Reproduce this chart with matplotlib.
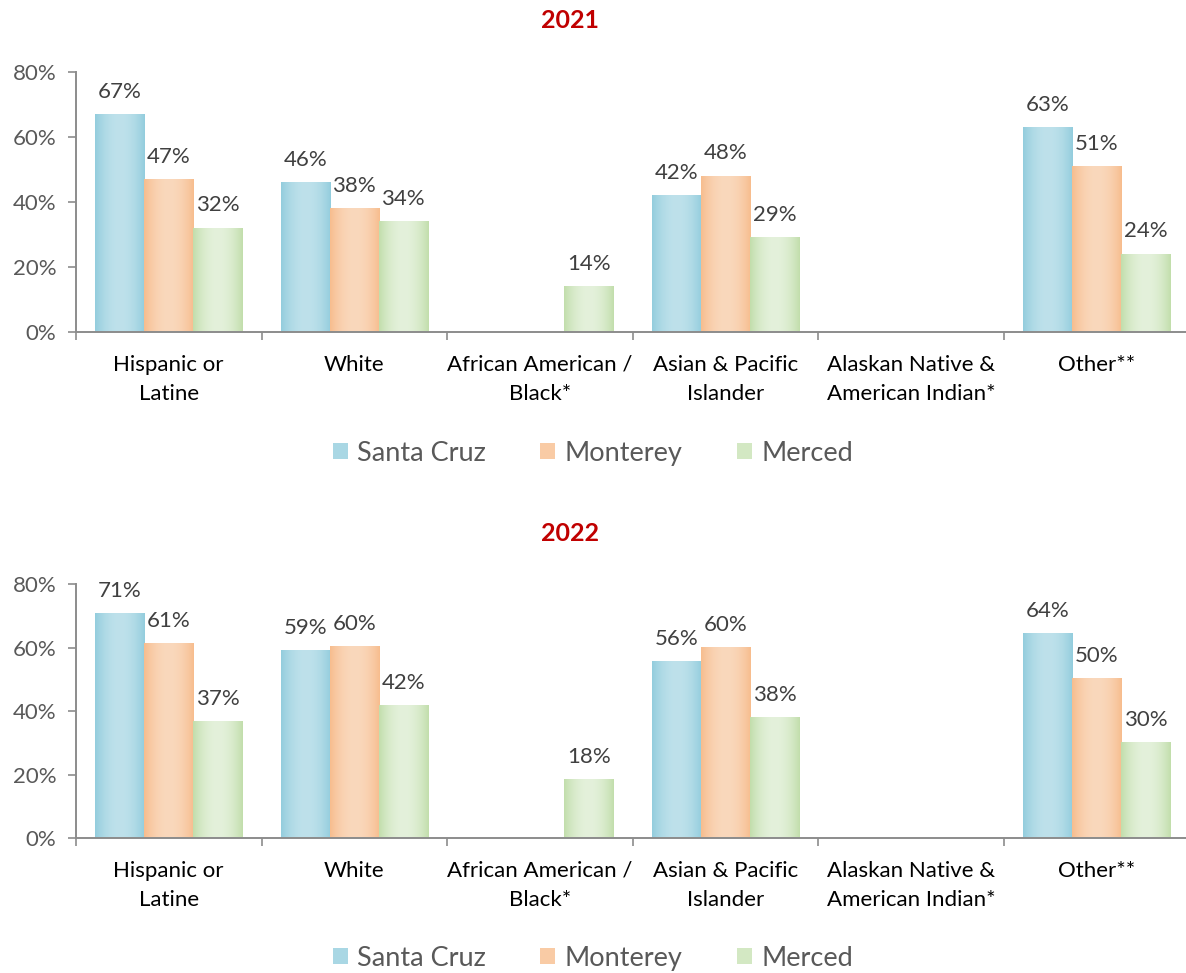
import numpy as np
import matplotlib
matplotlib.use("Agg")
import matplotlib.pyplot as plt
from matplotlib.colors import to_rgb
from matplotlib.patches import Patch

plt.rcParams["font.family"] = ["Lato", "DejaVu Sans"]

# ------------------------------------------------------------
# data
# ------------------------------------------------------------
categories = [
    "Hispanic or\nLatine",
    "White",
    "African American /\nBlack*",
    "Asian & Pacific\nIslander",
    "Alaskan Native &\nAmerican Indian*",
    "Other**",
]
series = ["Santa Cruz", "Monterey", "Merced"]

santa_cruz_2021 = [67, 46, np.nan, 42, np.nan, 63]
monterey_2021 = [47, 38, np.nan, 48, np.nan, 51]
merced_2021 = [32, 34, 14, 29, np.nan, 24]

santa_cruz_2022 = [70.6, 59.2, np.nan, 55.5, np.nan, 64.4]
monterey_2022 = [61.2, 60.2, np.nan, 59.9, np.nan, 50.1]
merced_2022 = [36.6, 41.6, 18.3, 38.0, np.nan, 30.2]

yticks = [0, 20, 40, 60, 80]

# (edge colour, centre colour) for the bar gradient
gradients = [
    ("#93CDDD", "#BEE1EB"),
    ("#F7BD8E", "#FAD8BC"),
    ("#C2DEAC", "#E4F1DB"),
]

TEXT = "#404040"
AXIS = "#8C8C8C"
TITLE = "#C00000"


def gradient_bar(ax, patch, edge, centre):
    x, y = patch.get_xy()
    w, h = patch.get_width(), patch.get_height()
    t = np.linspace(0, 1, 80)
    f = 1 - (2 * t - 1) ** 2
    e = np.array(to_rgb(edge))
    c = np.array(to_rgb(centre))
    cols = e[None, :] + (c - e)[None, :] * f[:, None]
    ax.imshow(cols[None, :, :], extent=[x, x + w, y, y + h], aspect="auto",
              interpolation="bilinear", zorder=2)


def draw_year(ax, values):
    x = np.arange(len(categories))
    width = 0.264
    offsets = [-width, 0, width]

    for vals, off, (edge, centre) in zip(values, offsets, gradients):
        vals = np.array(vals, dtype=float)
        bars = ax.bar(x + off, np.nan_to_num(vals), width, color=centre, zorder=1)
        for patch, v in zip(bars, vals):
            if np.isnan(v):
                patch.set_visible(False)
                continue
            gradient_bar(ax, patch, edge, centre)
            ax.annotate(f"{v:.0f}%", (patch.get_x() + width / 2, v),
                        xytext=(0, 9), textcoords="offset points",
                        ha="center", va="bottom", fontsize=16, color=TEXT)

    ax.set_xlim(-0.5, len(categories) - 0.5)
    ax.set_ylim(0, 80)

    ax.set_yticks(yticks)
    ax.set_yticklabels([f"{t}%" for t in yticks])
    ax.tick_params(axis="y", direction="out", length=6, width=1.2,
                   color=AXIS, labelcolor="#595959", labelsize=16, pad=8)

    ax.set_xticks(np.arange(len(categories) + 1) - 0.5)
    ax.set_xticklabels([])
    ax.set_xticks(x, minor=True)
    ax.set_xticklabels(categories, minor=True, fontsize=16, color="black",
                       linespacing=1.55)
    ax.tick_params(axis="x", which="major", direction="out", length=6,
                   width=1.2, color=AXIS)
    ax.tick_params(axis="x", which="minor", length=0, pad=16.5)

    for side in ["top", "right"]:
        ax.spines[side].set_visible(False)
    for side in ["left", "bottom"]:
        ax.spines[side].set_color(AXIS)
        ax.spines[side].set_linewidth(1.4)


def add_legend(fig, y):
    handles = [Patch(facecolor=(np.array(to_rgb(e)) + np.array(to_rgb(c))) / 2,
                     edgecolor="none")
               for e, c in gradients]
    fig.legend(handles, series, loc="center", bbox_to_anchor=(0.5, y),
               ncol=3, frameon=False, fontsize=19.5, labelcolor="#595959",
               handlelength=0.55, handleheight=0.55, handletextpad=0.35,
               columnspacing=2.0)


fig = plt.figure(figsize=(11.86, 9.73), dpi=100)

ax1 = fig.add_axes([0.064, 0.6588, 0.939, 0.2672])
draw_year(ax1, [santa_cruz_2021, monterey_2021, merced_2021])
fig.text(0.481, 0.979, "2021", ha="center", va="center", fontsize=18,
         fontweight="bold", color=TITLE)
add_legend(fig, 0.5344)

ax2 = fig.add_axes([0.064, 0.1387, 0.939, 0.2611])
draw_year(ax2, [santa_cruz_2022, monterey_2022, merced_2022])
fig.text(0.481, 0.452, "2022", ha="center", va="center", fontsize=18,
         fontweight="bold", color=TITLE)
add_legend(fig, 0.0154)

fig.savefig("out.png", dpi=100)
